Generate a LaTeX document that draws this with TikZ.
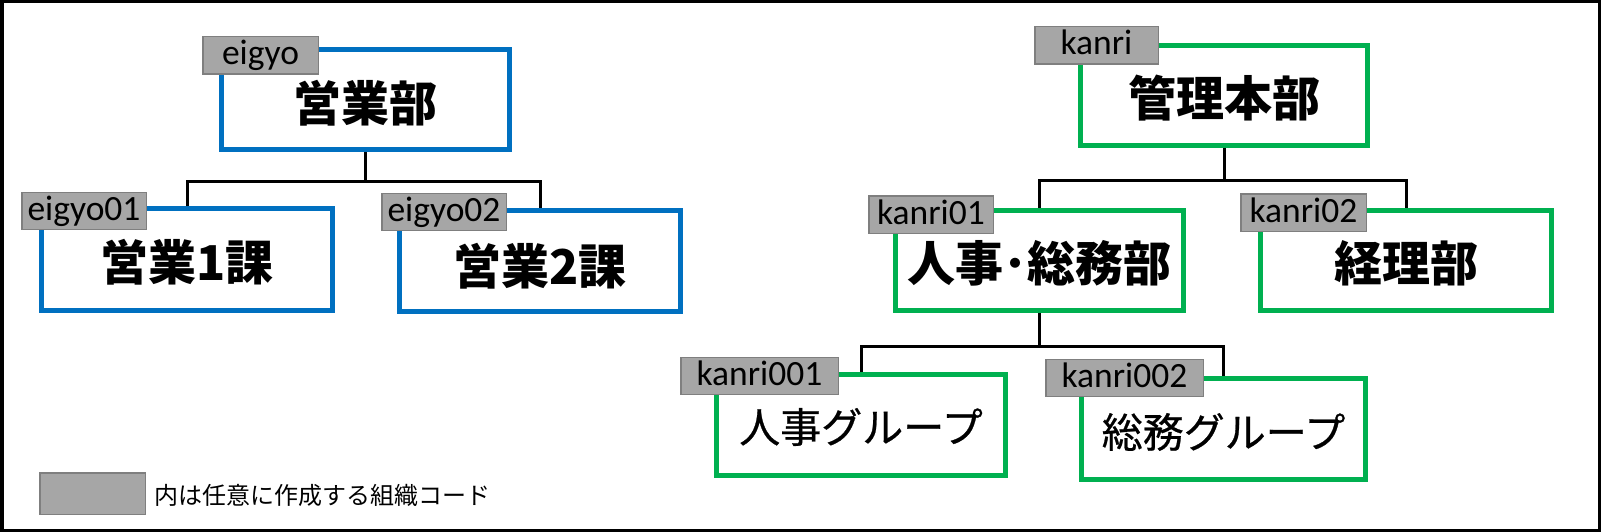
\documentclass[tikz,border=0pt]{standalone}
\usepackage{fontspec}
\newfontfamily\cjk{Noto Sans CJK JP}
\newfontfamily\cjkmed[FakeBold=0.6]{Noto Sans CJK JP}
\newfontfamily\tagfont{Carlito}
\usetikzlibrary{calc}
\definecolor{blueline}{HTML}{0070C0}
\definecolor{greenline}{HTML}{00B050}
\definecolor{tagfill}{HTML}{A6A6A6}
\definecolor{tagborder}{HTML}{7F7F7F}
\newcommand{\lowr}[2]{\raisebox{-#1}[\height][\depth]{#2}}
\begin{document}
\begin{tikzpicture}[x=1pt,y=-1pt,
  orgbox/.style={draw, line width=5pt, minimum height=100pt, inner sep=0pt, fill=white},
  bigtxt/.style={font=\cjk\bfseries\fontsize{48}{58}\selectfont},
  midtxt/.style={font=\cjkmed\fontsize{41}{49}\selectfont},
  bluebox/.style={orgbox, draw=blueline, bigtxt},
  greenbox/.style={orgbox, draw=greenline, bigtxt},
  greensub/.style={orgbox, draw=greenline, midtxt},
  tagbox/.style={draw=tagborder, fill=tagfill, line width=1.5pt, minimum height=37pt, inner sep=0pt,
    text height=25.5pt, text depth=6.5pt, font=\tagfont\fontsize{35.5}{42}\selectfont},
  conn/.style={draw=black, line width=3pt},
  frame/.style={draw=black, line width=3.5pt}
]
\useasboundingbox (0,0) rectangle (1601,532);
\draw[frame] (1.75,1.75) rectangle (1599.25,530.25);

% boxes
\node[bluebox, minimum width=288pt, minimum height=100pt] (eigyo) at (365.5,99.5) {\lowr{4pt}{営業部}};
\node[bluebox, minimum width=291pt, minimum height=102pt] (eigyo01) at (187,259.5) {\lowr{3pt}{営業1課}};
\node[bluebox, minimum width=281pt, minimum height=101pt] (eigyo02) at (540,261) {\lowr{5pt}{営業2課}};
\node[greenbox, minimum width=287pt, minimum height=100pt] (kanri) at (1224,95.5) {\lowr{3pt}{管理本部}};
\node[greenbox, minimum width=288pt, minimum height=100pt] (kanri01) at (1039.5,260.5) {\lowr{3pt}{人事･総務部}};
\node[greenbox, minimum width=291pt, minimum height=100pt] (kanri02) at (1406,260.5) {\lowr{3pt}{経理部}};
\node[greensub, minimum width=289pt, minimum height=101pt] (kanri001) at (861,425) {\lowr{2pt}{人事グループ}};
\node[greensub, minimum width=284pt, minimum height=101pt] (kanri002) at (1223.5,429) {\lowr{3pt}{総務グループ}};

% tags
\node[tagbox, minimum width=115.5pt, minimum height=37.5pt] (t-eigyo) at (260.5,55.5) {eigyo};
\node[tagbox, minimum width=124.5pt] (t-eigyo01) at (84,211) {eigyo01};
\node[tagbox, minimum width=124.5pt] (t-eigyo02) at (444,212) {eigyo02};
\node[tagbox, minimum width=123.5pt, minimum height=37.5pt] (t-kanri) at (1096.5,45.5) {kanri};
\node[tagbox, minimum width=124.5pt, minimum height=37.5pt] (t-kanri01) at (931,214.5) {kanri01};
\node[tagbox, minimum width=125.5pt, minimum height=37.5pt] (t-kanri02) at (1303.5,212.5) {kanri02};
\node[tagbox, minimum width=157.5pt] (t-kanri001) at (759.5,376) {kanri001};
\node[tagbox, minimum width=157.5pt] (t-kanri002) at (1124.5,378) {kanri002};

% connectors
\draw[conn] (eigyo.south) -- ++(0,29) coordinate (ej);
\draw[conn] (eigyo01.north) |- (ej) -| (eigyo02.north);
\draw[conn] (kanri.south) -- ++(0,32) coordinate (kj);
\draw[conn] (kanri01.north) |- (kj) -| (kanri02.north);
\draw[conn] (kanri01.south) -- ++(0,33) coordinate (k1j);
\draw[conn] (kanri001.north) |- (k1j) -| (kanri002.north);

% legend
\node[draw=tagborder, fill=tagfill, line width=1.5pt, minimum width=105.5pt, minimum height=41.5pt, inner sep=0pt] (legend) at (92.5,493.5) {};
\node[anchor=west, inner sep=0pt, font=\cjk\fontsize{24}{29}\selectfont] (legendtxt) at (154,495) {内は任意に作成する組織コード};
\end{tikzpicture}
\end{document}
